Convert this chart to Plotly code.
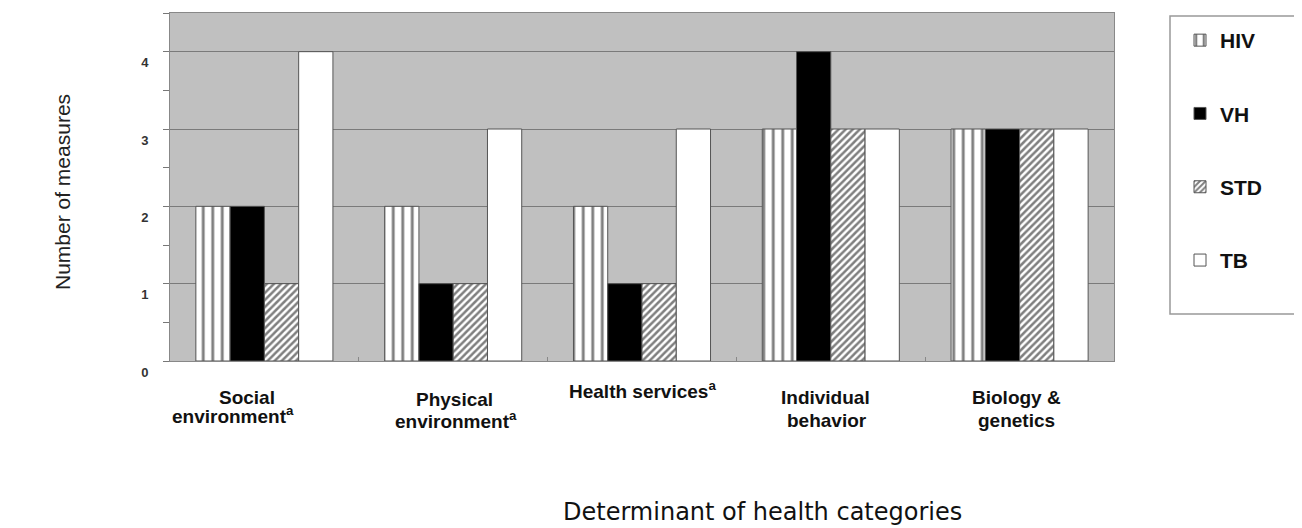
import plotly.graph_objects as go

categories = ["Social<br>environment<sup>a</sup>", "Physical<br>environment<sup>a</sup>",
              "Health services<sup>a</sup>", "Individual<br>behavior", "Biology &<br>genetics"]
hiv = [2, 2, 2, 3, 3]
vh = [2, 1, 1, 4, 3]
std = [1, 1, 1, 3, 3]
tb = [4, 3, 3, 3, 3]
y_ticks = [0, 1, 2, 3, 4]

# layout helpers (target pixel positions in the page; the page body adds an 8px offset)
OFF = 8
W, H = 1302, 528
PL, PR, PT, PB = 170, 1114, 13, 361          # plot area in page pixels
L, T = PL - OFF, PT - OFF
PW, PH = PR - PL, PB - PT
R, B = W - L - PW, H - T - PH


def px_x(p):
    return (p - PL) / PW


def px_y(p):
    return (PB - p) / PH


label_xshift = [(-17, -31), (1, 3), (0,), (-5, -4), (-3, -3)]
label_ypx = [(397, 415), (399, 420), (390,), (397, 420), (397, 420)]

series = [
    ("HIV", hiv, dict(color="white", pattern=dict(shape="|", fgcolor="black", bgcolor="white", size=9.5, solidity=0.3))),
    ("VH", vh, dict(color="black")),
    ("STD", std, dict(color="white", pattern=dict(shape="/", fgcolor="black", bgcolor="white", size=5, solidity=0.5))),
    ("TB", tb, dict(color="white")),
]

fig = go.Figure()
for name, vals, mk in series:
    mk = dict(mk)
    mk["line"] = dict(color="#555555", width=1)
    fig.add_trace(go.Bar(name=name, x=categories, y=vals, marker=mk, legendgroup=name))

annotations = []
for ci, cat in enumerate(categories):
    for li, txt in enumerate(cat.split("<br>")):
        annotations.append(dict(
            text=txt, x=cat, xref="x", y=px_y(label_ypx[ci][li]), yref="paper",
            xshift=label_xshift[ci][li], yanchor="middle", xanchor="center", showarrow=False,
            font=dict(family="Liberation Sans, Arial", size=19, color="#111111", weight="bold")))

annotations.append(dict(text="Number of measures", textangle=-90, xref="paper", yref="paper",
                        x=px_x(62), y=px_y(192), xanchor="center", yanchor="middle",
                        showarrow=False, font=dict(family="Liberation Sans, Arial", size=21, color="#222222")))
annotations.append(dict(text="Determinant of health categories", xref="paper", yref="paper",
                        x=px_x(762), y=px_y(512), xanchor="center", yanchor="middle",
                        showarrow=False, font=dict(family="DejaVu Sans", size=24, color="#111111")))

fig.update_layout(
    width=W, height=H, margin=dict(l=L, r=R, t=T, b=B, autoexpand=False),
    paper_bgcolor="white", plot_bgcolor="#c0c0c0",
    barmode="group", bargap=0.274, bargroupgap=0,
    showlegend=True,
    legend=dict(x=px_x(1180), y=px_y(20), xanchor="left", yanchor="top",
                bgcolor="rgba(0,0,0,0)", borderwidth=0, tracegroupgap=43,
                font=dict(family="Liberation Sans, Arial", size=21, color="#111111", weight="bold")),
    annotations=annotations,
    shapes=[dict(type="rect", xref="paper", yref="paper",
                 x0=px_x(1170), x1=px_x(1340), y0=px_y(314), y1=px_y(16),
                 line=dict(color="#999999", width=1.5), fillcolor="white", layer="below")],
    xaxis=dict(showticklabels=False, ticks="inside", tickson="boundaries", ticklen=4, tickcolor="#888888",
               showgrid=False, showline=True, linecolor="#888888", linewidth=1, mirror=True, zeroline=False),
    yaxis=dict(range=[0, 4.5], tickvals=y_ticks, ticks="outside", ticklen=6, tickcolor="#777777",
               showgrid=True, gridcolor="#7a7a7a", gridwidth=1, zeroline=False,
               showline=True, linecolor="#888888", linewidth=1, mirror=True,
               minor=dict(dtick=0.5, ticks="outside", ticklen=6, tickcolor="#777777", showgrid=False),
               ticklabelshift=11, ticklabelstandoff=12,
               tickfont=dict(family="Liberation Sans, Arial", size=13, color="#333333", weight="bold")),
)

fig.write_html("out.html")
